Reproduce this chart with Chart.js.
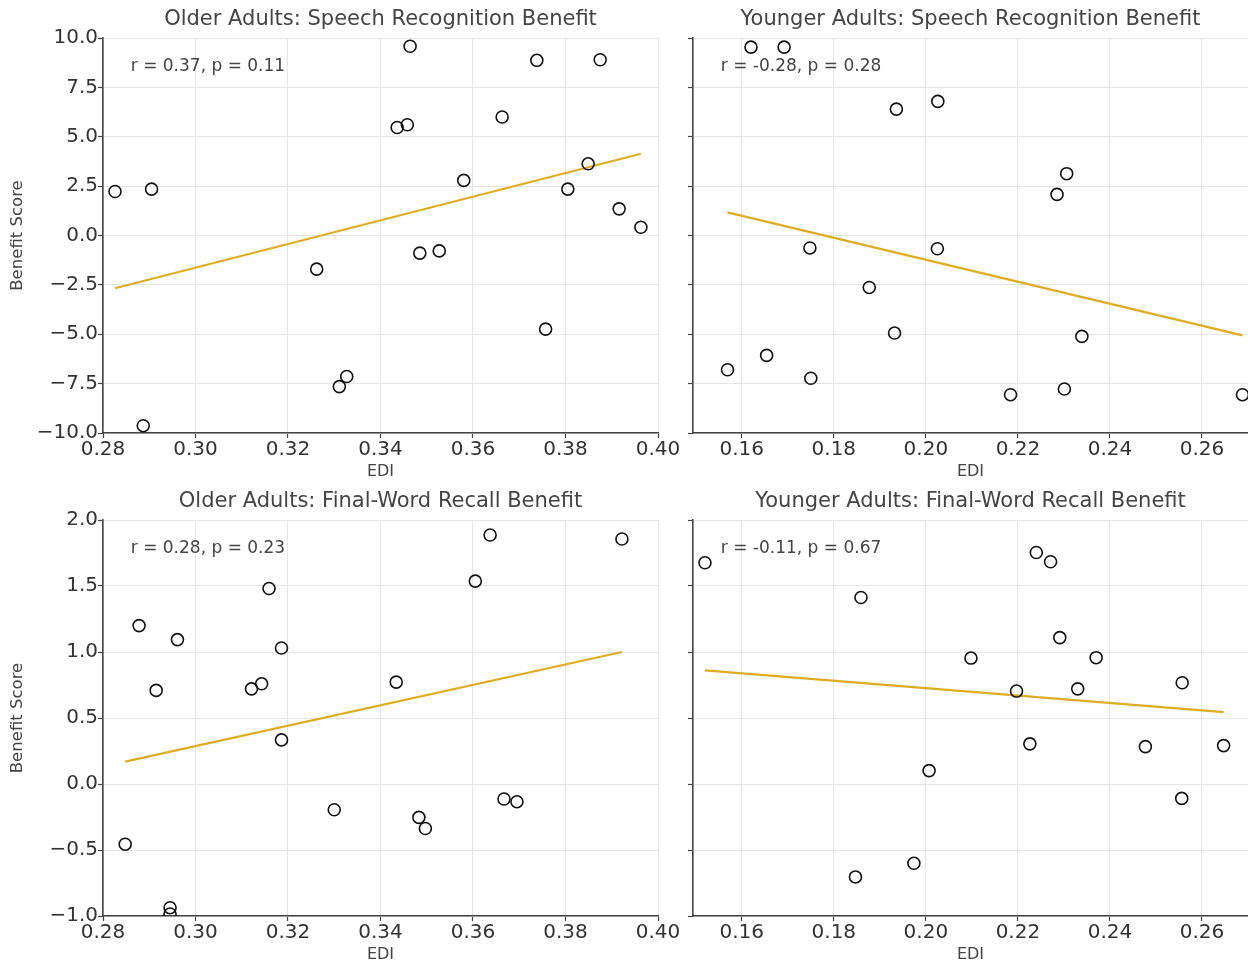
<!DOCTYPE html>
<html>
<head>
<meta charset="utf-8">
<script src="https://cdn.jsdelivr.net/npm/chart.js@4.4.1/dist/chart.umd.min.js"></script>
<style>
  html, body { margin: 0; padding: 0; background: #fff; }
  #fig { position: relative; width: 1248px; height: 967px; overflow: hidden; }
  #fig canvas { position: absolute; }
</style>
</head>
<body>
<div id="fig">
  <canvas id="oldSpeech" width="680" height="484" style="left:0;top:0"></canvas>
  <canvas id="youngSpeech" width="568" height="484" style="left:680px;top:0"></canvas>
  <canvas id="oldRecall" width="680" height="483" style="left:0;top:484px"></canvas>
  <canvas id="youngRecall" width="568" height="483" style="left:680px;top:484px"></canvas>
</div>
<script>
// values
const olderSpeechEdi = [0.2826, 0.2905, 0.2887, 0.3262, 0.3311, 0.3327, 0.3436, 0.3458, 0.3464, 0.3485, 0.3527, 0.3580, 0.3663, 0.3738, 0.3757, 0.3805, 0.3849, 0.3875, 0.3916, 0.3963];
const olderSpeechBenefit = [2.23, 2.35, -9.63, -1.70, -7.65, -7.14, 5.47, 5.61, 9.58, -0.89, -0.78, 2.79, 6.00, 8.87, -4.74, 2.35, 3.63, 8.90, 1.35, 0.42];
const olderSpeechFitEdi = [0.2826, 0.3963];
const olderSpeechFitBenefit = [-2.67, 4.14];

const youngerSpeechEdi = [0.1620, 0.1692, 0.1936, 0.2026, 0.2306, 0.2285, 0.1748, 0.2025, 0.1877, 0.1932, 0.2339, 0.1654, 0.1569, 0.1750, 0.2184, 0.2301, 0.2688];
const youngerSpeechBenefit = [9.54, 9.54, 6.40, 6.79, 3.13, 2.08, -0.63, -0.67, -2.63, -4.94, -5.11, -6.07, -6.80, -7.23, -8.06, -7.77, -8.06];
const youngerSpeechFitEdi = [0.1569, 0.2688];
const youngerSpeechFitBenefit = [1.17, -5.06];

const olderRecallEdi = [0.2848, 0.2878, 0.2915, 0.2961, 0.2945, 0.2945, 0.3121, 0.3143, 0.3159, 0.3186, 0.3186, 0.3300, 0.3434, 0.3483, 0.3497, 0.3605, 0.3637, 0.3667, 0.3695, 0.3922];
const olderRecallBenefit = [-0.456, 1.20, 0.709, 1.094, -0.937, -0.985, 0.721, 0.759, 1.481, 1.030, 0.334, -0.195, 0.772, -0.253, -0.337, 1.537, 1.886, -0.114, -0.134, 1.856];
const olderRecallFitEdi = [0.2848, 0.3922];
const olderRecallFitBenefit = [0.169, 1.0];

const youngerRecallEdi = [0.1520, 0.1859, 0.2240, 0.2271, 0.2291, 0.2098, 0.2370, 0.2197, 0.2330, 0.2557, 0.2226, 0.2477, 0.2647, 0.2007, 0.2556, 0.1974, 0.1847];
const youngerRecallBenefit = [1.676, 1.413, 1.754, 1.684, 1.109, 0.954, 0.957, 0.704, 0.721, 0.767, 0.304, 0.283, 0.291, 0.101, -0.109, -0.600, -0.704];
const youngerRecallFitEdi = [0.1520, 0.2647];
const youngerRecallFitBenefit = [0.861, 0.544];

const olderEdiTicks = [0.28, 0.30, 0.32, 0.34, 0.36, 0.38, 0.40];
const youngerEdiTicks = [0.16, 0.18, 0.20, 0.22, 0.24, 0.26];
const speechTicks = [-10, -7.5, -5, -2.5, 0, 2.5, 5, 7.5, 10];
const recallTicks = [-1, -0.5, 0, 0.5, 1, 1.5, 2];

const panelTitles = [
  'Older Adults: Speech Recognition Benefit',
  'Younger Adults: Speech Recognition Benefit',
  'Older Adults: Final-Word Recall Benefit',
  'Younger Adults: Final-Word Recall Benefit'
];
const statLabels = ['r = 0.37, p = 0.11', 'r = -0.28, p = 0.28', 'r = 0.28, p = 0.23', 'r = -0.11, p = 0.67'];

Chart.defaults.font.family = '"DejaVu Sans", sans-serif';

const textColor = '#444';
const minus = s => s.replace('-', '\u2212');

// title above the plot area and the r/p note inside its top-left corner
const panelText = {
  id: 'panelText',
  afterDraw(chart, args, o) {
    const { ctx, chartArea: a } = chart;
    ctx.save();
    ctx.fillStyle = textColor;
    ctx.textBaseline = 'middle';
    ctx.font = '21px "DejaVu Sans"';
    ctx.textAlign = 'center';
    ctx.fillText(o.title, (a.left + a.right) / 2, a.top - 18);
    ctx.font = '17px "DejaVu Sans"';
    ctx.textAlign = 'left';
    ctx.fillText(o.stat, a.left + 0.05 * (a.right - a.left), a.top + 0.05 * (a.bottom - a.top) + 8.5);
    ctx.restore();
  }
};

function makePanel(id, p) {
  const canvas = document.getElementById(id);
  const w = canvas.width, h = canvas.height;
  const points = p.edi.map((x, i) => ({ x, y: p.benefit[i] }));
  const fit = p.fitEdi.map((x, i) => ({ x, y: p.fitBenefit[i] }));
  const grid = { color: '#e6e6e6', lineWidth: 1, drawTicks: true, tickLength: 5, tickColor: '#444', tickWidth: 1.2 };
  const border = { display: true, color: '#444', width: 1.6 };
  new Chart(canvas, {
    type: 'scatter',
    data: { datasets: [
      { data: points, pointStyle: 'circle', pointRadius: 6, pointBorderWidth: 1.6,
        borderColor: '#111', backgroundColor: 'rgba(0,0,0,0)', clip: 0 },
      { type: 'line', data: fit, borderColor: '#dcad22', borderWidth: 2.2, pointRadius: 0, fill: false, tension: 0 }
    ]},
    options: {
      responsive: false, animation: false, events: [],
      layout: { autoPadding: false, padding: { left: 0, top: p.top, right: w - p.right, bottom: 0 } },
      plugins: { legend: { display: false }, tooltip: { enabled: false }, panelText: { title: p.title, stat: p.stat } },
      scales: {
        x: {
          type: 'linear', min: p.xMin, max: p.xMax,
          afterBuildTicks: s => { s.ticks = p.xTicks.map(v => ({ value: v })); },
          afterFit: s => { s.height = h - p.bottom; s.paddingLeft = 0; s.paddingRight = 0; },
          grid, border,
          ticks: { color: '#333', font: { size: 20 }, padding: 0, callback: v => v.toFixed(2) },
          title: { display: true, text: 'EDI', color: textColor, font: { size: 16 }, padding: { top: 0, bottom: 3 } }
        },
        y: {
          type: 'linear', min: p.yMin, max: p.yMax,
          afterBuildTicks: s => { s.ticks = p.yTicks.map(v => ({ value: v })); },
          afterFit: s => { s.width = p.left; s.paddingTop = 0; s.paddingBottom = 0; },
          grid, border,
          ticks: { display: p.showY, color: '#333', font: { size: 20 }, padding: 0, callback: v => minus(v.toFixed(1)) },
          title: { display: p.showY, text: 'Benefit Score', color: textColor, font: { size: 16.5 }, padding: { top: 8, bottom: 0 } }
        }
      }
    },
    plugins: [panelText]
  });
}

makePanel('oldSpeech', { edi: olderSpeechEdi, benefit: olderSpeechBenefit, fitEdi: olderSpeechFitEdi, fitBenefit: olderSpeechFitBenefit,
  xMin: 0.28, xMax: 0.40, xTicks: olderEdiTicks, yMin: -10, yMax: 10, yTicks: speechTicks,
  left: 103, right: 658, top: 38, bottom: 433, showY: true, title: panelTitles[0], stat: statLabels[0] });
makePanel('youngSpeech', { edi: youngerSpeechEdi, benefit: youngerSpeechBenefit, fitEdi: youngerSpeechFitEdi, fitBenefit: youngerSpeechFitBenefit,
  xMin: 0.1494, xMax: 0.2700, xTicks: youngerEdiTicks, yMin: -10, yMax: 10, yTicks: speechTicks,
  left: 13, right: 568, top: 38, bottom: 433, showY: false, title: panelTitles[1], stat: statLabels[1] });
makePanel('oldRecall', { edi: olderRecallEdi, benefit: olderRecallBenefit, fitEdi: olderRecallFitEdi, fitBenefit: olderRecallFitBenefit,
  xMin: 0.28, xMax: 0.40, xTicks: olderEdiTicks, yMin: -1, yMax: 2, yTicks: recallTicks,
  left: 103, right: 658, top: 36, bottom: 432, showY: true, title: panelTitles[2], stat: statLabels[2] });
makePanel('youngRecall', { edi: youngerRecallEdi, benefit: youngerRecallBenefit, fitEdi: youngerRecallFitEdi, fitBenefit: youngerRecallFitBenefit,
  xMin: 0.1494, xMax: 0.2700, xTicks: youngerEdiTicks, yMin: -1, yMax: 2, yTicks: recallTicks,
  left: 13, right: 568, top: 36, bottom: 432, showY: false, title: panelTitles[3], stat: statLabels[3] });
</script>
</body>
</html>
